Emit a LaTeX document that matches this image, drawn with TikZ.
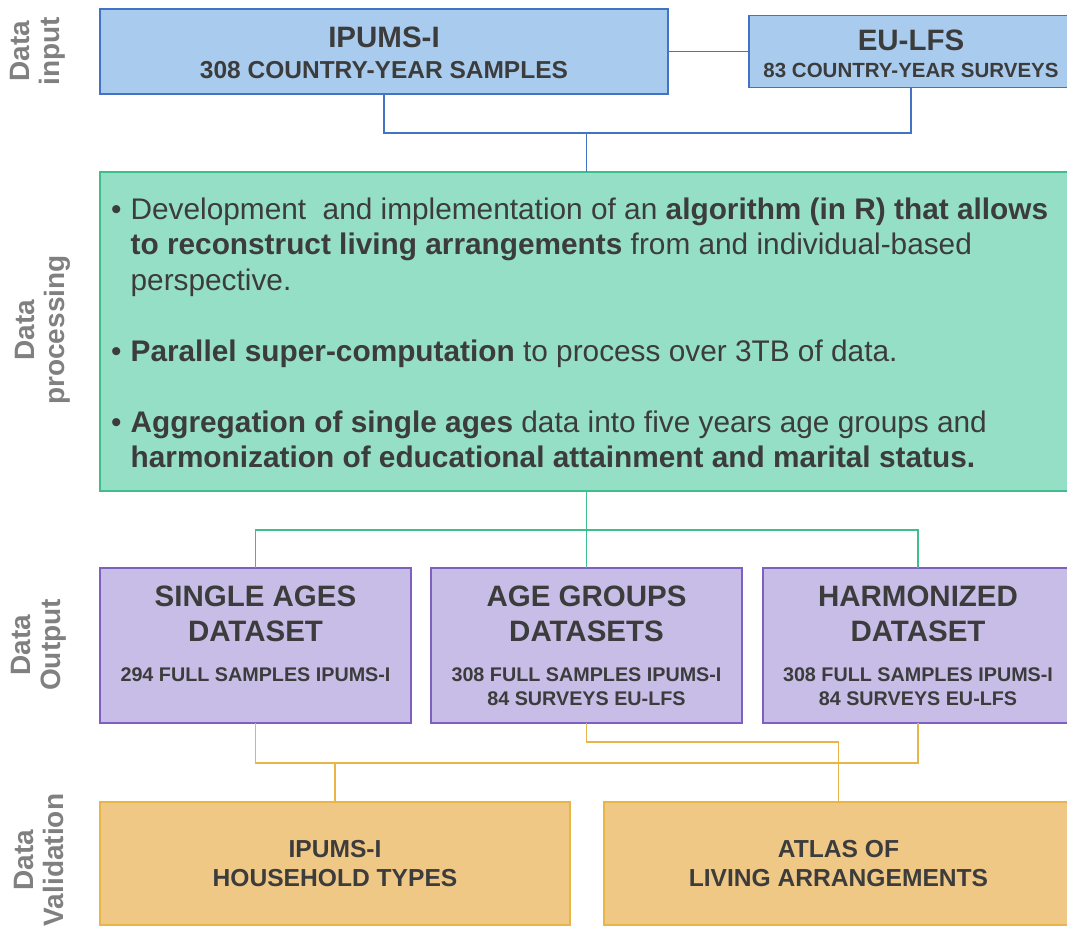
\documentclass[tikz,border=0pt]{standalone}
\usepackage{fontspec}
\setmainfont{Liberation Sans}
\usetikzlibrary{positioning}

\definecolor{inputfill}{HTML}{A9CCEE}
\definecolor{inputline}{HTML}{4472C4}
\definecolor{procfill}{HTML}{94DFC5}
\definecolor{procline}{HTML}{3DBE8C}
\definecolor{outpfill}{HTML}{C8BDE6}
\definecolor{outpline}{HTML}{7E60C0}
\definecolor{valfill}{HTML}{EFC886}
\definecolor{valline}{HTML}{E8B548}
\definecolor{textgray}{HTML}{3C3C3C}
\definecolor{sidegray}{HTML}{808080}

\newcommand{\fsize}[2]{\fontsize{#1}{#2}\selectfont}

\tikzset{
  stagebox/.style={rectangle, line width=1.8pt, inner sep=0pt, outer sep=0pt, align=center,
    text=textgray, font=\bfseries\fsize{29.5}{35}},
  inputbox/.style={stagebox, draw=inputline, fill=inputfill},
  procbox/.style={stagebox, draw=procline, fill=procfill},
  outpbox/.style={stagebox, draw=outpline, fill=outpfill, minimum height=155pt},
  valbox/.style={stagebox, draw=valline, fill=valfill, minimum height=123pt,
    font=\bfseries\fsize{24.6}{29}},
  proctext/.style={anchor=base west, inner sep=0pt, text=textgray, font=\fsize{29.8}{35.5}},
  sidetext/.style={rotate=90, align=center, inner sep=0pt, text=sidegray,
    font=\bfseries\fsize{28}{30}},
  inputlink/.style={draw=inputline, line width=1.8pt},
  proclink/.style={draw=procline, line width=1.8pt},
  vallink/.style={draw=valline, line width=1.8pt},
}

\begin{document}
\begin{tikzpicture}[x=1pt, y=-1pt]
\useasboundingbox (0,0) rectangle (1067,929);

% side labels
\node[sidetext] (sideinput) at (38,51) {Data\\input};
\node[sidetext] (sideproc) at (43,330) {Data\\processing};
\node[sidetext] (sideoutp) at (39,645) {Data\\Output};
\node[sidetext] (sideval) at (39,860) {Data\\Validation};

% data input
\node[inputbox, minimum width=568pt, minimum height=85pt] (ipums) at (384,51.5)
  {\rule{0pt}{24pt}IPUMS-I\\[-4pt]\fsize{24.5}{29}308 COUNTRY-YEAR SAMPLES};
\node[inputbox, minimum width=324pt, minimum height=72pt, right=81pt of ipums] (eulfs)
  {\rule{0pt}{26pt}EU-LFS\\[-8pt]\fsize{20.5}{24}83 COUNTRY-YEAR SURVEYS};

% data processing
\node[procbox, minimum width=973pt, minimum height=319pt] (proc) at (586.5,331.5) {};
\node[proctext] (proclist) at (111,219) {%
  \begin{tabular}[t]{@{}l@{\hspace{9pt}}l@{}}
  • & Development~ and implementation of an \textbf{algorithm (in R) that allows}\\
    & \textbf{to reconstruct living arrangements} from and individual-based\\
    & perspective.\\
    & \\
  • & \textbf{Parallel super-computation} to process over 3TB of data.\\
    & \\
  • & \textbf{Aggregation of single ages} data into five years age groups and\\
    & \textbf{harmonization of educational attainment and marital status.}
  \end{tabular}};

% data output
\node[outpbox, minimum width=311pt] (single) at (255.5,645.5)
  {SINGLE AGES\\DATASET\\[5pt]\fsize{19.75}{24}294 FULL SAMPLES IPUMS-I\\[-11pt]\fsize{19.75}{24}\phantom{8}};
\node[outpbox, minimum width=311pt, right=20pt of single] (groups)
  {AGE GROUPS\\DATASETS\\[5pt]\fsize{19.75}{24}308 FULL SAMPLES IPUMS-I\\[-11pt]\fsize{19.75}{24}84 SURVEYS EU-LFS};
\node[outpbox, minimum width=310pt, right=21pt of groups] (harm)
  {HARMONIZED\\DATASET\\[5pt]\fsize{19.75}{24}308 FULL SAMPLES IPUMS-I\\[-11pt]\fsize{19.75}{24}84 SURVEYS EU-LFS};

% data validation
\node[valbox, minimum width=470pt] (hhtypes) at (335,863.5) {IPUMS-I\\HOUSEHOLD TYPES};
\node[valbox, minimum width=469pt, right=34pt of hhtypes] (atlas) {ATLAS OF\\LIVING ARRANGEMENTS};

% connectors
\coordinate (injoin) at (proc.north |- 0,133);
\draw[inputlink] (ipums.east) -- (eulfs.west);
\draw[inputlink] (ipums.south) |- (injoin) -| (eulfs.south);
\draw[inputlink] (injoin) -- (proc.north);

\coordinate (procjoin) at (groups.north |- 0,530);
\draw[proclink] (proc.south -| groups.north) -- (groups.north);
\draw[proclink] (single.north) |- (procjoin) -| (harm.north);

\coordinate (valjoinA) at (hhtypes.north |- 0,763);
\coordinate (valjoinB) at (groups.south |- 0,742);
\draw[vallink] (single.south) |- (valjoinA) -| (harm.south);
\draw[vallink] (valjoinA) -- (hhtypes.north);
\draw[vallink] (groups.south) -- (valjoinB) -| (atlas.north);

\end{tikzpicture}
\end{document}
